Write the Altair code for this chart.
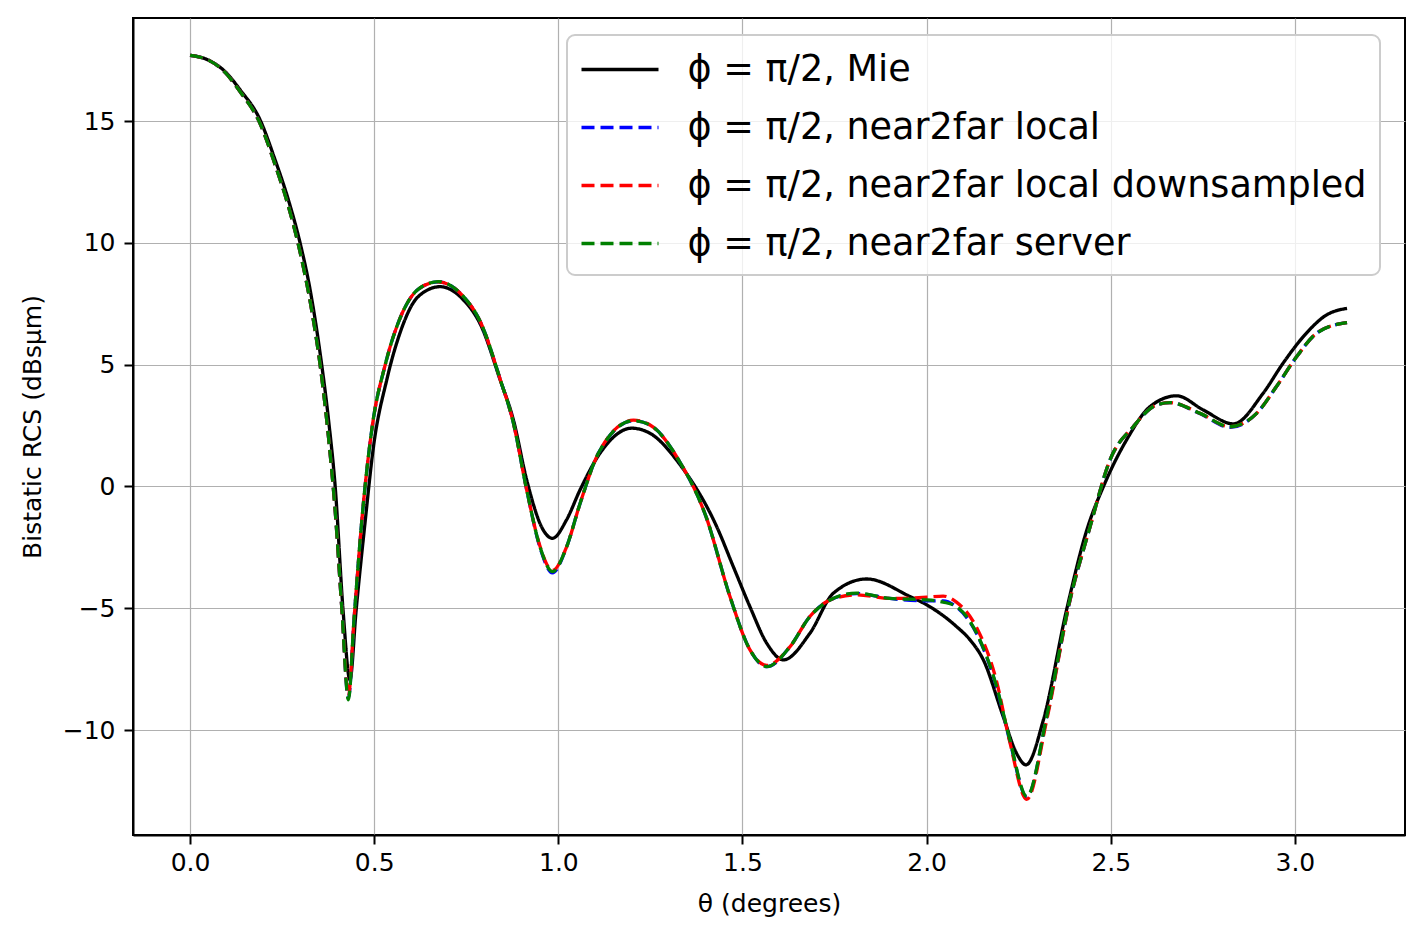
import altair as alt
import pandas as pd

# ---- data ----
SERIES = [
    "ϕ = π/2, Mie",
    "ϕ = π/2, near2far local",
    "ϕ = π/2, near2far local downsampled",
    "ϕ = π/2, near2far server",
]
COLORS = ["#000000", "#0000ff", "#ff0000", "#008000"]
DASHES = [[1, 0], [13, 6], [13, 6], [13, 6]]

mie_theta = [0.0, 0.05, 0.095, 0.136, 0.19, 0.231, 0.267, 0.299, 0.326, 0.353, 0.376, 0.394,
             0.416, 0.434, 0.451, 0.475, 0.498, 0.534, 0.57, 0.62, 0.679, 0.742, 0.79, 0.842,
             0.878, 0.914, 0.959, 0.984, 1.022, 1.059, 1.113, 1.199, 1.249, 1.33, 1.43, 1.475,
             1.52, 1.566, 1.611, 1.683, 1.747, 1.837, 1.955, 2.0, 2.081, 2.118, 2.154, 2.208,
             2.244, 2.27, 2.317, 2.38, 2.435, 2.484, 2.543, 2.607, 2.679, 2.751, 2.833, 2.914,
             2.968, 3.023, 3.086, 3.1416]
mie_rcs = [17.7, 17.5, 17.03, 16.28, 15.05, 13.4, 11.76, 9.98, 8.07, 5.48, 2.73, 0.0,
           -5.2, -7.94, -5.07, -1.5, 1.63, 4.37, 6.3, 7.8, 8.2, 7.66, 6.6, 4.37,
           2.73, 0.27, -1.79, -2.13, -1.38, -0.14, 1.36, 2.39, 2.18, 0.9, -1.65, -3.29,
           -4.93, -6.44, -7.12, -6.03, -4.38, -3.8, -4.52, -4.86, -5.75, -6.3, -7.12, -9.45,
           -10.95, -11.43, -9.59, -5.07, -1.79, 0.13, 1.91, 3.28, 3.72, 3.14, 2.57, 3.83,
           5.06, 6.15, 7.04, 7.31]

n2f_theta = [0.0, 0.05, 0.095, 0.136, 0.19, 0.231, 0.267, 0.299, 0.326, 0.353, 0.376, 0.394,
             0.412, 0.430, 0.445, 0.47, 0.495, 0.53, 0.57, 0.62, 0.674, 0.742, 0.79, 0.842,
             0.878, 0.914, 0.95, 0.984, 1.022, 1.059, 1.11, 1.204, 1.249, 1.33, 1.40, 1.466,
             1.52, 1.566, 1.629, 1.683, 1.738, 1.81, 1.9, 2.0, 2.045, 2.081, 2.136, 2.19,
             2.226, 2.272, 2.326, 2.389, 2.444, 2.498, 2.561, 2.625, 2.661, 2.743, 2.824, 2.896,
             2.95, 3.005, 3.059, 3.132, 3.1416]
server_rcs = [17.7, 17.5, 17.0, 16.2, 14.9, 13.2, 11.5, 9.6, 7.6, 5.0, 2.0, -1.0,
              -5.0, -8.76, -5.5, -0.8, 2.5, 5.0, 6.9, 8.1, 8.41, 7.8, 6.7, 4.4,
              2.6, -0.14, -2.47, -3.5, -2.5, -0.7, 1.4, 2.70, 2.52, 1.0, -1.2, -4.52,
              -6.7, -7.4, -6.58, -5.34, -4.66, -4.38, -4.6, -4.66, -4.75, -4.93, -6.03, -8.22,
              -10.4, -12.73, -9.45, -4.66, -1.65, 1.09, 2.45, 3.35, 3.44, 3.0, 2.45, 3.0,
              4.1, 5.33, 6.29, 6.7, 6.72]
local_rcs = [17.7, 17.5, 17.0, 16.2, 14.9, 13.2, 11.5, 9.6, 7.6, 5.0, 2.0, -1.0,
             -5.0, -8.7, -5.5, -0.8, 2.5, 5.0, 6.9, 8.1, 8.4, 7.8, 6.7, 4.4,
             2.6, -0.14, -2.5, -3.55, -2.5, -0.7, 1.4, 2.70, 2.52, 1.0, -1.2, -4.52,
             -6.7, -7.4, -6.58, -5.34, -4.66, -4.4, -4.6, -4.7, -4.7, -4.95, -6.05, -8.25,
             -10.45, -12.75, -9.5, -4.7, -1.65, 1.09, 2.45, 3.35, 3.44, 2.98, 2.42, 3.0,
             4.1, 5.33, 6.29, 6.7, 6.72]
down_rcs = [17.7, 17.5, 17.0, 16.2, 14.9, 13.2, 11.5, 9.6, 7.6, 5.0, 2.0, -1.0,
            -5.0, -8.6, -5.5, -0.8, 2.5, 5.0, 6.9, 8.1, 8.4, 7.8, 6.7, 4.4,
            2.6, -0.14, -2.45, -3.45, -2.5, -0.7, 1.4, 2.72, 2.52, 1.0, -1.2, -4.52,
            -6.7, -7.35, -6.58, -5.34, -4.66, -4.45, -4.6, -4.55, -4.5, -4.75, -5.8, -8.0,
            -10.5, -12.85, -9.6, -4.7, -1.65, 1.09, 2.45, 3.35, 3.44, 3.0, 2.45, 3.0,
            4.1, 5.33, 6.29, 6.7, 6.72]

rows = []
for s, th, vals in [
    (SERIES[0], mie_theta, mie_rcs),
    (SERIES[1], n2f_theta, local_rcs),
    (SERIES[2], n2f_theta, down_rcs),
    (SERIES[3], n2f_theta, server_rcs),
]:
    for t, v in zip(th, vals):
        rows.append({"theta": t, "rcs": v, "series": s})
df = pd.DataFrame(rows)

FONT = "DejaVu Sans"

chart = (
    alt.Chart(df)
    .mark_line(strokeWidth=3.3, interpolate="monotone")
    .encode(
        x=alt.X(
            "theta:Q",
            scale=alt.Scale(domain=[-0.155, 3.299], nice=False, zero=False),
            axis=alt.Axis(
                title="θ (degrees)",
                values=[0.0, 0.5, 1.0, 1.5, 2.0, 2.5, 3.0],
                format=".1f",
            ),
        ),
        y=alt.Y(
            "rcs:Q",
            scale=alt.Scale(domain=[-14.31, 19.23], nice=False, zero=False),
            axis=alt.Axis(
                title="Bistatic RCS (dBsμm)",
                values=[-10, -5, 0, 5, 10, 15],
                format="d",
            ),
        ),
        color=alt.Color(
            "series:N",
            scale=alt.Scale(domain=SERIES, range=COLORS),
            legend=alt.Legend(title=None),
        ),
        strokeDash=alt.StrokeDash(
            "series:N",
            scale=alt.Scale(domain=SERIES, range=DASHES),
            legend=alt.Legend(title=None),
        ),
        order=alt.Order("theta:Q"),
    )
    .properties(
        width=1272,
        height=817,
        padding={"left": 125, "top": 10, "right": 9, "bottom": 96},
        autosize=alt.AutoSizeParams(type="none"),
    )
    .configure(font=FONT)
    .configure_view(stroke="black", strokeWidth=2)
    .configure_axis(
        labelFont=FONT,
        titleFont=FONT,
        labelFontSize=25,
        titleFontSize=25,
        titleFontWeight="normal",
        labelColor="black",
        titleColor="black",
        domainColor="black",
        domainWidth=2,
        tickColor="black",
        tickWidth=2,
        tickSize=9,
        gridColor="#b0b0b0",
        gridWidth=1.2,
    )
    .configure_axisX(labelPadding=6, titlePadding=16)
    .configure_axisY(labelPadding=9, titlePadding=17)
    .configure_legend(
        orient="none",
        legendX=434,
        legendY=17,
        fillColor="rgba(255,255,255,0.8)",
        strokeColor="#cccccc",
        strokeWidth=2,
        cornerRadius=8,
        padding=12.5,
        symbolType="M-1,0L2.85,0",
        symbolSize=1600,
        symbolStrokeWidth=3.3,
        symbolFillColor="transparent",
        labelFont=FONT,
        labelFontSize=36.6,
        labelColor="black",
        labelLimit=1000,
        labelOffset=64,
        rowPadding=17,
    )
)

chart.save("out.html", embed_options={"renderer": "svg", "actions": False})
